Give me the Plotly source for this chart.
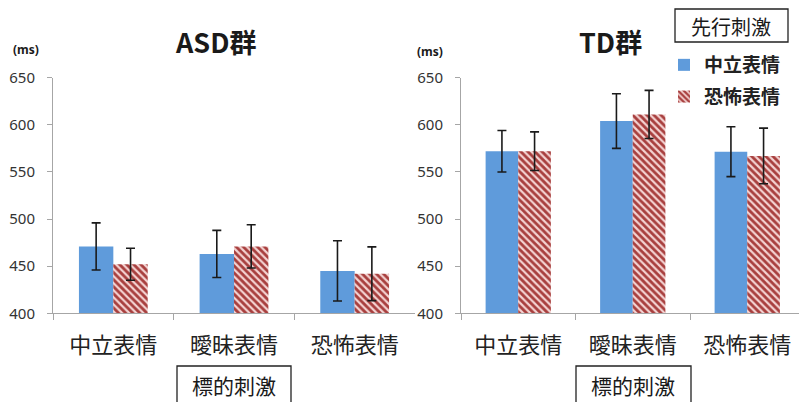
import plotly.graph_objects as go

categories = ["中立表情", "曖昧表情", "恐怖表情"]
series_names = ["中立表情", "恐怖表情"]

asd_neutral = [471, 463, 445]
asd_neutral_err = [25, 25, 32]
asd_fear = [452, 471, 442]
asd_fear_err = [17, 23, 28.5]

td_neutral = [572, 604, 571.5]
td_neutral_err = [22, 29, 26.5]
td_fear = [572, 611, 567]
td_fear_err = [20.5, 25.5, 29.5]

y_ticks = [400, 450, 500, 550, 600, 650]

BLUE = "#5F9BDB"
RED_FG = "#A83F3E"
RED_BG = "#F4D3D2"
AXIS = "#A6A6A6"
W, H = 799, 402

JP = "Noto Sans CJK JP, Noto Sans, sans-serif"

fig = go.Figure()

def add_pair(xa, ya, neutral, nerr, fear, ferr, show):
    fig.add_trace(go.Bar(
        x=categories, y=neutral, name=series_names[0], xaxis=xa, yaxis=ya,
        marker=dict(color=BLUE, line=dict(width=0)),
        error_y=dict(type="data", array=nerr, color="#1a1a1a", thickness=1.6, width=4.5),
        showlegend=show, legendgroup="a",
    ))
    fig.add_trace(go.Bar(
        x=categories, y=fear, name=series_names[1], xaxis=xa, yaxis=ya,
        marker=dict(color=RED_FG, line=dict(width=0),
                    pattern=dict(shape="\\", fgcolor=RED_FG, bgcolor=RED_BG,
                                 size=5, solidity=0.55, fillmode="replace")),
        error_y=dict(type="data", array=ferr, color="#1a1a1a", thickness=1.6, width=4.5),
        showlegend=show, legendgroup="b",
    ))

add_pair("x", "y", asd_neutral, asd_neutral_err, asd_fear, asd_fear_err, True)
add_pair("x2", "y2", td_neutral, td_neutral_err, td_fear, td_fear_err, False)

ydom = [(H - 313.3) / H, (H - 77.7) / H]

xcommon = dict(showline=True, linecolor=AXIS, linewidth=1, ticks="outside",
               tickson="boundaries", ticklen=6, tickcolor=AXIS, showgrid=False,
               zeroline=False, tickfont=dict(family=JP, size=22, color="#222222"),
               ticklabelstandoff=12, fixedrange=True, automargin=False)
ycommon = dict(showline=True, linecolor=AXIS, linewidth=1, ticks="outside",
               ticklen=5, tickcolor=AXIS, showgrid=False, zeroline=False,
               range=[400, 650], tickvals=y_ticks, domain=ydom,
               tickfont=dict(family="Noto Sans, sans-serif", size=15, color="#333333"),
               ticklabelstandoff=9, automargin=False, fixedrange=True)

fig.update_layout(
    width=W, height=H,
    margin=dict(l=0, r=0, t=0, b=0, pad=0, autoexpand=False),
    paper_bgcolor="white", plot_bgcolor="white",
    barmode="group", bargap=0.43, bargroupgap=0,
    xaxis=dict(domain=[53 / W, 415 / W], range=[-0.5, 2.5], anchor="y", **xcommon),
    xaxis2=dict(domain=[461 / W, 1.0], range=[-0.5, 2.452], anchor="y2", **xcommon),
    yaxis=dict(anchor="x", **ycommon),
    yaxis2=dict(anchor="x2", **ycommon),
    legend=dict(x=664 / W, y=(H - 46) / H, xanchor="left", yanchor="top",
                font=dict(family=JP, size=19, color="#222222", weight="bold"),
                bgcolor="rgba(0,0,0,0)", tracegroupgap=4, itemwidth=30),
    showlegend=True,
)

def txt(s, x, y, size, family=JP):
    return dict(text=s, x=x / W, y=(H - y) / H, xref="paper", yref="paper",
                xanchor="center", yanchor="middle", showarrow=False,
                font=dict(family=family, size=size, color="#1a1a1a"))

ann = [
    txt("<b>ASD群</b>", 215, 41, 27),
    txt("<b>TD群</b>", 610, 41, 27),
    txt("<b>(ms)</b>", 26, 50, 12, "Noto Sans, sans-serif"),
    txt("<b>(ms)</b>", 430, 52, 12, "Noto Sans, sans-serif"),
    txt("先行刺激", 731, 26, 20),
    txt("標的刺激", 234, 385, 21),
    txt("標的刺激", 633, 385, 21),
]
fig.update_layout(annotations=ann)

shapes = [
    dict(type="rect", xref="paper", yref="paper", x0=675 / W, x1=788 / W,
         y0=(H - 42) / H, y1=(H - 9) / H, line=dict(color="#222222", width=1.3)),
    dict(type="rect", xref="paper", yref="paper", x0=177 / W, x1=291 / W,
         y0=-0.05, y1=(H - 366) / H, line=dict(color="#222222", width=1.3)),
    dict(type="rect", xref="paper", yref="paper", x0=576 / W, x1=691 / W,
         y0=-0.05, y1=(H - 366) / H, line=dict(color="#222222", width=1.3)),
]
fig.update_layout(shapes=shapes)

fig.write_html("out.html", config={"displayModeBar": False},
               post_script="document.body.style.margin='0';document.body.style.overflow='hidden';")
